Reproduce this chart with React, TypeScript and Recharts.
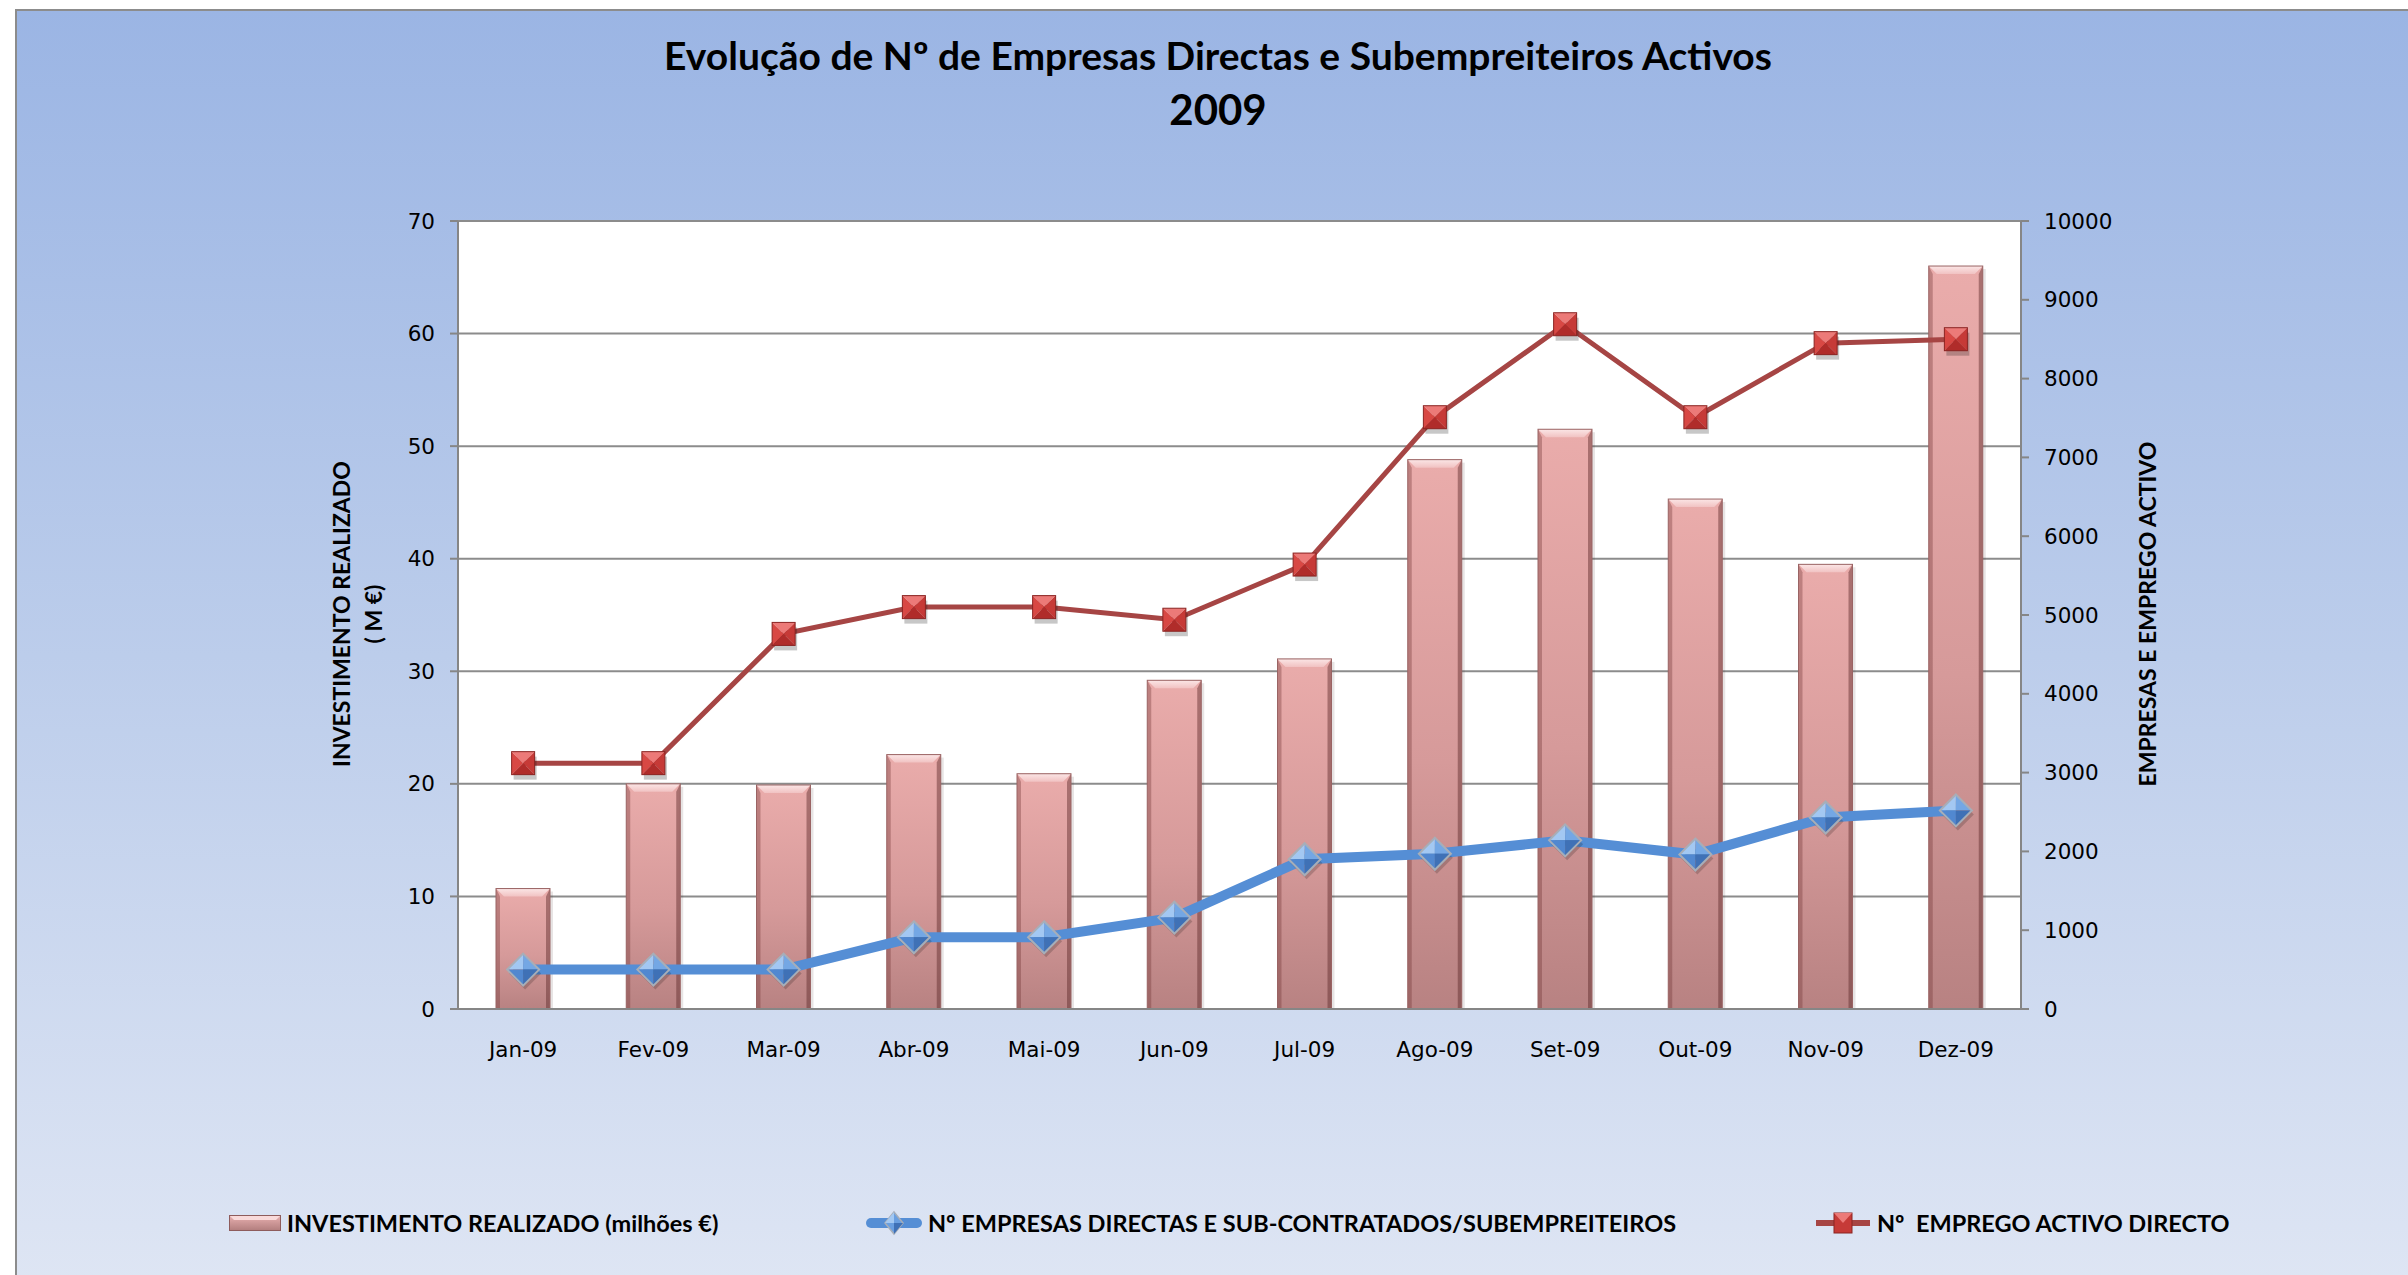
import React from 'react';
import { ComposedChart, Bar, Line, XAxis, YAxis, CartesianGrid } from 'recharts';

const categories = ['Jan-09', 'Fev-09', 'Mar-09', 'Abr-09', 'Mai-09', 'Jun-09', 'Jul-09', 'Ago-09', 'Set-09', 'Out-09', 'Nov-09', 'Dez-09'];
const investimento = [10.7, 20.0, 19.9, 22.6, 20.9, 29.2, 31.1, 48.8, 51.5, 45.3, 39.5, 66.0];
const empresas = [500, 500, 500, 910, 910, 1160, 1900, 1970, 2140, 1960, 2430, 2520];
const emprego = [3120, 3120, 4760, 5100, 5100, 4940, 5640, 7510, 8690, 7510, 8450, 8500];
const leftTicks = [0, 10, 20, 30, 40, 50, 60, 70];
const rightTicks = [0, 1000, 2000, 3000, 4000, 5000, 6000, 7000, 8000, 9000, 10000];
const seriesNames = [
  'INVESTIMENTO REALIZADO (milhões €)',
  'Nº EMPRESAS DIRECTAS E SUB-CONTRATADOS/SUBEMPREITEIROS',
  'Nº  EMPREGO ACTIVO DIRECTO',
];
const titleLines = ['Evolução de Nº de Empresas Directas e Subempreiteiros Activos', '2009'];
const leftAxisTitle = ['INVESTIMENTO REALIZADO', '( M €)'];
const rightAxisTitle = 'EMPRESAS E EMPREGO ACTIVO';

const data = categories.map((c, i) => ({
  name: c,
  inv: investimento[i],
  emp: empresas[i],
  act: emprego[i],
}));

const BOLD = "Lato, 'Open Sans', sans-serif";
const TICKFONT = "'DejaVu Sans', Verdana, sans-serif";

const BevelBar = (props: any) => {
  const { x, y, width, height } = props;
  if (!height || height <= 0) return <g />;
  const b = Math.min(8, height / 2);
  return (
    <g>
      <rect x={x + 3} y={y + 3} width={width} height={height - 3} fill="rgba(60,30,30,0.12)" />
      <rect x={x} y={y} width={width} height={height} fill="url(#barBody)" />
      <polygon points={`${x},${y} ${x + b * 0.5},${y + b} ${x + b * 0.5},${y + height} ${x},${y + height}`} fill="rgba(110,50,50,0.35)" />
      <polygon points={`${x + width},${y} ${x + width - b * 0.5},${y + b} ${x + width - b * 0.5},${y + height} ${x + width},${y + height}`} fill="rgba(90,40,40,0.45)" />
      <polygon points={`${x},${y} ${x + width},${y} ${x + width - b},${y + b} ${x + b},${y + b}`} fill="url(#barTop)" />
      <rect x={x} y={y} width={width} height={height} fill="none" stroke="#9a6464" strokeWidth={1} />
    </g>
  );
};

const SquareDot = (props: any) => {
  const { cx, cy } = props;
  if (cx == null || cy == null) return <g />;
  const h = 11.5;
  const l = cx - h, r = cx + h, t = cy - h, b = cy + h;
  return (
    <g>
      <rect x={l + 2} y={t + 5} width={2 * h} height={2 * h} fill="rgba(0,0,0,0.22)" />
      <polygon points={`${l},${t} ${r},${t} ${cx},${cy}`} fill="#ec7a78" />
      <polygon points={`${l},${t} ${cx},${cy} ${l},${b}`} fill="#d84844" />
      <polygon points={`${r},${t} ${cx},${cy} ${r},${b}`} fill="#c63a37" />
      <polygon points={`${l},${b} ${cx},${cy} ${r},${b}`} fill="#b02c2a" />
      <rect x={l} y={t} width={2 * h} height={2 * h} fill="none" stroke="#8a2422" strokeWidth={1} />
    </g>
  );
};

const DiamondDot = (props: any) => {
  const { cx, cy } = props;
  if (cx == null || cy == null) return <g />;
  const h = 16;
  const T = `${cx},${cy - h}`, R = `${cx + h},${cy}`, B = `${cx},${cy + h}`, L = `${cx - h},${cy}`, C = `${cx},${cy}`;
  return (
    <g>
      <polygon points={`${cx + 2},${cy - h + 4} ${cx + h + 2},${cy + 4} ${cx + 2},${cy + h + 4} ${cx - h + 2},${cy + 4}`} fill="rgba(0,0,0,0.18)" />
      <polygon points={`${T} ${L} ${C}`} fill="#a3c8f2" />
      <polygon points={`${T} ${R} ${C}`} fill="#74a7e4" />
      <polygon points={`${L} ${B} ${C}`} fill="#5188d0" />
      <polygon points={`${R} ${B} ${C}`} fill="#3f71b6" />
      <polygon points={`${T} ${R} ${B} ${L}`} fill="none" stroke="#a7aeb8" strokeWidth={2} />
    </g>
  );
};

const LegendIcon = ({ kind }: { kind: number }) => {
  if (kind === 0) {
    return (
      <svg width={52} height={16}>
        <rect x={0} y={0} width={52} height={16} fill="url(#legBar)" />
        <polygon points="0,0 52,0 47,5 5,5" fill="#f9dada" />
        <rect x={0.5} y={0.5} width={51} height={15} fill="none" stroke="#8e5c5c" />
      </svg>
    );
  }
  if (kind === 1) {
    return (
      <svg width={56} height={26}>
        <line x1={5} y1={13} x2={51} y2={13} stroke="#558ed5" strokeWidth={10} strokeLinecap="round" />
        <polygon points="28,2 37,13 28,24 19,13" fill="#6a9fe0" stroke="#a7aeb8" strokeWidth={1.5} />
        <polygon points="28,2 19,13 28,13" fill="#a3c8f2" />
        <polygon points="28,24 37,13 28,13" fill="#3f71b6" />
      </svg>
    );
  }
  return (
    <svg width={56} height={22}>
      <line x1={1} y1={11} x2={55} y2={11} stroke="#a64544" strokeWidth={6} />
      <rect x={19} y={1} width={18} height={20} fill="#c63a37" stroke="#8a2422" />
      <polygon points="19,1 37,1 28,11" fill="#ec7a78" />
    </svg>
  );
};

export default function App() {
  const legendPos = [
    { left: 229, icon: 0 },
    { left: 866, icon: 1 },
    { left: 1815, icon: 2 },
  ];
  const titleStyles = [
    { top: 36, fontSize: 39 },
    { top: 88, fontSize: 42 },
  ];
  return (
    <div style={{ position: 'absolute', left: 0, top: 0, width: 2408, height: 1275, background: '#fff', overflow: 'hidden' }}>
      <svg width={0} height={0} style={{ position: 'absolute' }}>
        <defs>
          <linearGradient id="legBar" x1="0" y1="0" x2="0" y2="1">
            <stop offset="0%" stopColor="#eab2b2" />
            <stop offset="100%" stopColor="#b07c7c" />
          </linearGradient>
        </defs>
      </svg>
      <div
        style={{
          position: 'absolute',
          left: 15,
          top: 9,
          width: 2420,
          height: 1290,
          borderLeft: '2px solid #8c8c8c',
          borderTop: '2px solid #8c8c8c',
          background: 'linear-gradient(to bottom, #9bb5e4 0%, #bccdeb 50%, #dfe6f4 100%)',
        }}
      />
      {titleLines.map((t, i) => (
        <div
          key={i}
          style={{
            position: 'absolute',
            left: 1218 - 800,
            width: 1600,
            top: titleStyles[i].top,
            textAlign: 'center',
            fontFamily: BOLD,
            fontWeight: 700,
            fontSize: titleStyles[i].fontSize,
            lineHeight: `${titleStyles[i].fontSize}px`,
            color: '#000',
            whiteSpace: 'nowrap',
          }}
        >
          {t}
        </div>
      ))}
      <div style={{ position: 'absolute', left: 0, top: 0 }}>
        <ComposedChart
          width={2408}
          height={1275}
          data={data}
          margin={{ top: 221, right: 0, bottom: 206, left: 0 }}
        >
          <defs>
            <linearGradient id="barBody" x1="0" y1="0" x2="0" y2="1">
              <stop offset="0%" stopColor="#eaacab" />
              <stop offset="55%" stopColor="#d69a9a" />
              <stop offset="100%" stopColor="#b88282" />
            </linearGradient>
            <linearGradient id="barTop" x1="0" y1="0" x2="0" y2="1">
              <stop offset="0%" stopColor="#fbe6e6" />
              <stop offset="100%" stopColor="#f1c2c2" />
            </linearGradient>
          </defs>
          <CartesianGrid yAxisId="left" vertical={false} stroke="#8c8c8c" strokeWidth={2} fill="#ffffff" fillOpacity={1} />
          <XAxis
            dataKey="name"
            height={60}
            tickLine={false}
            tickMargin={27}
            axisLine={{ stroke: '#868686', strokeWidth: 2 }}
            tick={{ fill: '#000', fontSize: 21.5, fontFamily: TICKFONT }}
            interval={0}
          />
          <YAxis
            yAxisId="left"
            orientation="left"
            width={458}
            domain={[0, 70]}
            ticks={leftTicks}
            interval={0}
            tickSize={8}
            tickMargin={15}
            axisLine={{ stroke: '#868686', strokeWidth: 2 }}
            tickLine={{ stroke: '#868686', strokeWidth: 2 }}
            tick={{ fill: '#000', fontSize: 21.5, fontFamily: TICKFONT }}
          />
          <YAxis
            yAxisId="right"
            orientation="right"
            width={387}
            domain={[0, 10000]}
            ticks={rightTicks}
            interval={0}
            tickSize={8}
            tickMargin={15}
            axisLine={{ stroke: '#868686', strokeWidth: 2 }}
            tickLine={{ stroke: '#868686', strokeWidth: 2 }}
            tick={{ fill: '#000', fontSize: 21.5, fontFamily: TICKFONT }}
          />
          <Bar yAxisId="left" dataKey="inv" name={seriesNames[0]} barSize={54} shape={BevelBar} isAnimationActive={false} />
          <Line
            yAxisId="right"
            dataKey="emp"
            name={seriesNames[1]}
            type="linear"
            stroke="#558ed5"
            strokeWidth={10}
            dot={(p: any) => <DiamondDot key={`d${p.index}`} {...p} />}
            activeDot={false}
            isAnimationActive={false}
          />
          <Line
            yAxisId="right"
            dataKey="act"
            name={seriesNames[2]}
            type="linear"
            stroke="#a64544"
            strokeWidth={5}
            dot={(p: any) => <SquareDot key={`s${p.index}`} {...p} />}
            activeDot={false}
            isAnimationActive={false}
          />
        </ComposedChart>
      </div>
      <div
        style={{
          position: 'absolute',
          left: 357,
          top: 614,
          transform: 'translate(-50%, -50%) rotate(-90deg)',
          fontFamily: BOLD,
          fontWeight: 700,
          fontSize: 23,
          lineHeight: '32px',
          textAlign: 'center',
          whiteSpace: 'nowrap',
          color: '#000',
        }}
      >
        {leftAxisTitle[0]}
        <br />
        {leftAxisTitle[1]}
      </div>
      <div
        style={{
          position: 'absolute',
          left: 2147,
          top: 614,
          transform: 'translate(-50%, -50%) rotate(-90deg)',
          fontFamily: BOLD,
          fontWeight: 700,
          fontSize: 23,
          lineHeight: '28px',
          textAlign: 'center',
          whiteSpace: 'nowrap',
          color: '#000',
        }}
      >
        {rightAxisTitle}
      </div>
      {legendPos.map((lp, i) => (
        <div
          key={i}
          style={{
            position: 'absolute',
            left: lp.left,
            top: 1208,
            height: 30,
            display: 'flex',
            alignItems: 'center',
            whiteSpace: 'pre',
            fontFamily: BOLD,
            fontWeight: 700,
            fontSize: 23.5,
            color: '#000',
          }}
        >
          <LegendIcon kind={lp.icon} />
          <span style={{ marginLeft: 6 }}>{seriesNames[i]}</span>
        </div>
      ))}
    </div>
  );
}
